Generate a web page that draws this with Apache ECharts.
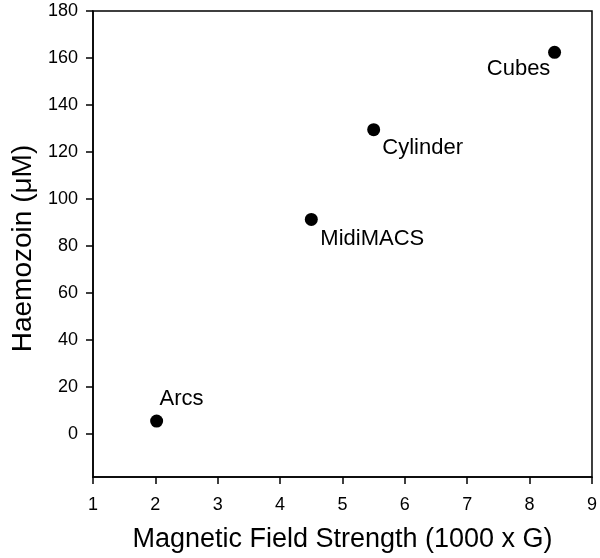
<!DOCTYPE html>
<html><head><meta charset="utf-8">
<script src="https://cdn.jsdelivr.net/npm/echarts@6/dist/echarts.min.js"></script>
<style>html,body{margin:0;padding:0;background:#fff}#c{width:600px;height:558px}</style>
</head><body><div id="c"></div>
<script>
var names = ['Arcs', 'MidiMACS', 'Cylinder', 'Cubes'];
var fieldStrength = [2.02, 4.5, 5.5, 8.4];
var haemozoin = [5.5, 91.3, 129.5, 162.4];
var xTicks = [1, 2, 3, 4, 5, 6, 7, 8, 9];
var yTicks = [0, 20, 40, 60, 80, 100, 120, 140, 160, 180];

// label centre offsets relative to the marker (pixels)
var labelOffsets = {
  'Arcs': [25, -22],
  'MidiMACS': [61, 19],
  'Cylinder': [49, 18],
  'Cubes': [-36, 17]
};

var font = '"Liberation Sans", Arial, sans-serif';
var data = names.map(function (n, i) {
  return {
    value: [fieldStrength[i], haemozoin[i]],
    label: {show: true, formatter: n, position: 'inside', align: 'center', verticalAlign: 'middle',
      offset: labelOffsets[n], color: '#000', fontSize: 22, fontFamily: font}
  };
});

var chart = echarts.init(document.getElementById('c'));
chart.setOption({
  animation: false,
  backgroundColor: '#fff',
  grid: {left: 93, right: 1, top: 11, bottom: 80, show: true, borderColor: '#000', borderWidth: 1.5},
  xAxis: {
    type: 'value', min: 1, max: 9,
    name: 'Magnetic Field Strength (1000 x G)', nameLocation: 'middle', nameGap: 49,
    nameTextStyle: {fontSize: 27, color: '#000', fontFamily: font},
    axisLine: {onZero: false, lineStyle: {color: '#000', width: 1.5}},
    axisTick: {show: true, length: 7, lineStyle: {color: '#000', width: 1.5}, customValues: xTicks},
    axisLabel: {color: '#000', fontSize: 18, fontFamily: font, margin: 19, customValues: xTicks},
    splitLine: {show: false}
  },
  yAxis: {
    type: 'value', min: -18.3, max: 180,
    name: 'Haemozoin (\u03bcM)', nameLocation: 'middle', nameGap: 55, nameRotate: 90,
    nameTextStyle: {fontSize: 28, color: '#000', fontFamily: font, padding: [0, 9, 0, 0]},
    axisLine: {onZero: false, lineStyle: {color: '#000', width: 1.5}},
    axisTick: {show: true, length: 7, lineStyle: {color: '#000', width: 1.5}, customValues: yTicks},
    axisLabel: {color: '#000', fontSize: 18, fontFamily: font, margin: 15, customValues: yTicks},
    splitLine: {show: false}
  },
  series: [{
    type: 'scatter', symbol: 'circle', symbolSize: 13,
    itemStyle: {color: '#000', opacity: 1},
    data: data
  }]
});
</script></body></html>
